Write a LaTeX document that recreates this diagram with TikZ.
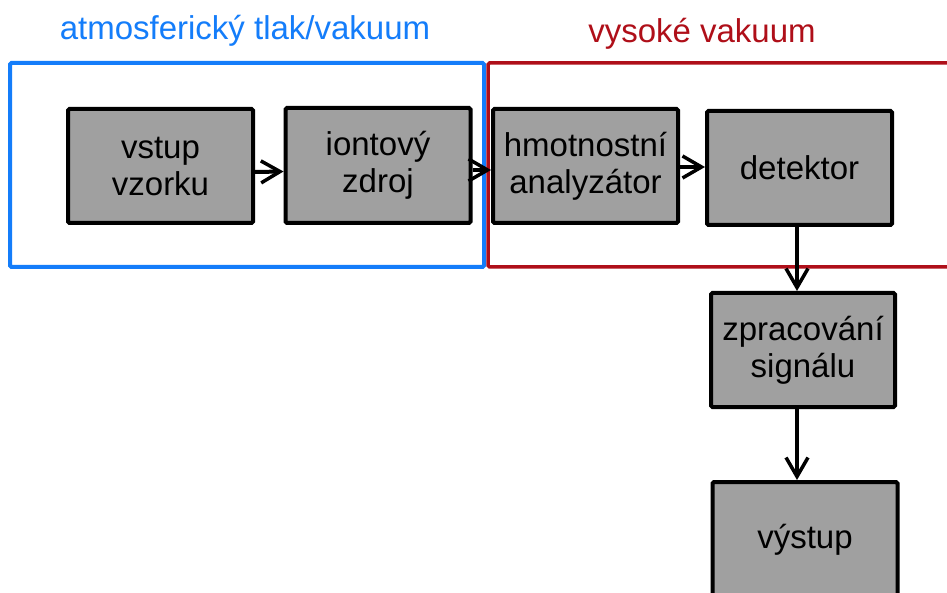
\documentclass[tikz,border=0pt]{standalone}
\usepackage{fontspec}
\setmainfont{Liberation Sans}
\usetikzlibrary{arrows.meta}
\definecolor{framblue}{RGB}{20,125,250}
\definecolor{framred}{RGB}{175,15,25}
\definecolor{boxgray}{RGB}{160,160,160}
\tikzset{
  part/.style = {draw, line width = 4pt, fill = boxgray, rounded corners = 1.5pt,
    minimum width = 185pt, minimum height = 114pt, align = center, inner sep = 0pt},
  arr/.style = {line width = 4pt, -{Straight Barb[length = 19pt, width = 22pt, line width = 3.5pt]}},
  frame/.style = {line width = 4pt, rounded corners = 1.5pt}
}
\begin{document}
\begin{tikzpicture}[x = 1pt, y = -1pt, font = \fontsize{33}{37}\selectfont]
  \clip (0,0) rectangle (947,593);
  \fill[white] (0,0) rectangle (947,593);
  % frames
  \draw[frame, framblue] (10,63) rectangle (484,267);
  \draw[frame, framred, line width = 3.5pt] (488,63) rectangle (975,267);
  \node[framblue] at (245,31) (T1) {atmosferický tlak/vakuum};
  \node[framred] at (702,34) (T2) {vysoké vakuum};
  % first row
  \node[part] at (160.5,166) (vstup) {vstup\\vzorku};
  \node[part, minimum height = 115pt] at (378,165.5) (zdroj) {iontový\\zdroj};
  \node[part] at (585.5,166) (analyz) {hmotnostní\\analyzátor};
  \node[part] at (799.5,168) (detek) {detektor};
  % column
  \node[part, minimum width = 184pt] at (803,350) (signal) {zpracování\\signálu};
  \node[part, minimum height = 116pt] at (805,540) (vystup) {výstup};
  % arrows
  \draw[arr] ([yshift = -6pt]vstup.east) -- ([yshift = -6pt]zdroj.west);
  \draw[arr] ([yshift = -4.5pt]zdroj.east) -- ([yshift = -4.5pt]zdroj.east -| analyz.west);
  \draw[arr] ([yshift = -1pt]analyz.east) -- ([yshift = -1pt]analyz.east -| detek.west);
  \draw[arr] ([xshift = -2.5pt]detek.south) -- ([xshift = -2.5pt]detek.south |- signal.north);
  \draw[arr] ([xshift = -6pt]signal.south) -- ([xshift = -6pt]signal.south |- vystup.north);
\end{tikzpicture}
\end{document}
